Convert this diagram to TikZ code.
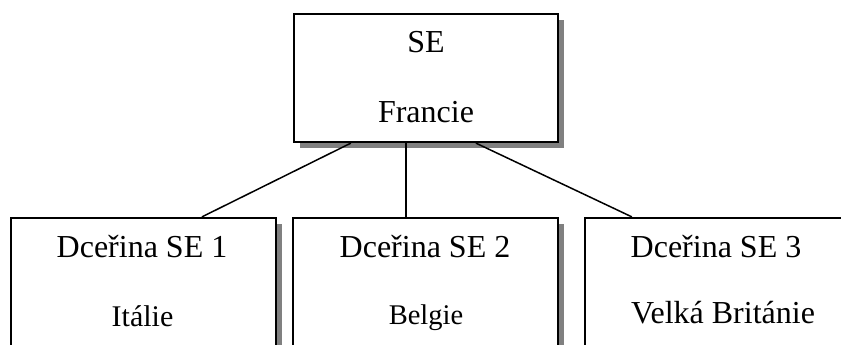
\documentclass[tikz,border=0pt]{standalone}
\usepackage{fontspec}
\setmainfont{Liberation Serif}
\usetikzlibrary{shadows}
\begin{document}
\begin{tikzpicture}[x=1pt,y=1pt,
  orgbox/.style={draw=black, line width=2.2pt, fill=white, rectangle, inner sep=0pt,
    drop shadow={shadow xshift=6pt, shadow yshift=-6pt, fill=black!50, opacity=1}},
  lbl/.style={anchor=base, inner sep=0pt, font=\fontsize{32}{38}\selectfont},
  lblm/.style={anchor=base, inner sep=0pt, font=\fontsize{30}{36}\selectfont},
  lbls/.style={anchor=base, inner sep=0pt, font=\fontsize{28.5}{34}\selectfont},
  conn/.style={draw=black, line width=1.5pt}]
\useasboundingbox (0,0) rectangle (841,-345);
\clip (0,0) rectangle (841,-345);
% boxes
\node[orgbox, minimum width=264pt, minimum height=128pt] (top) at (426,-78) {};
\node[orgbox, minimum width=265pt, minimum height=150pt] (b1) at (143.5,-293) {};
\node[orgbox, minimum width=265pt, minimum height=150pt] (b2) at (425.5,-293) {};
\node[orgbox, minimum width=265pt, minimum height=150pt] (b3) at (717.5,-293) {};
% connectors
\draw[conn] ([xshift=58pt]top.south west) -- ([xshift=192pt]b1.north west);
\draw[conn] ([xshift=113pt]top.south west) -- ([xshift=114pt]b2.north west);
\draw[conn] ([xshift=183pt]top.south west) -- ([xshift=48pt]b3.north west);
% texts
\node[lbl] (t1) at (426,-53) {SE};
\node[lbl] (t2) at (426,-122) {Francie};
\node[lbl] (l1a) at (142,-257) {Dceřina SE 1};
\node[lblm] (l1b) at (142.5,-326) {Itálie};
\node[lbl] (l2a) at (425,-257) {Dceřina SE 2};
\node[lbls] (l2b) at (426,-324) {Belgie};
\node[lbl] (l3a) at (716,-257) {Dceřina SE 3};
\node[lbl] (l3b) at (723,-323) {Velká Británie};
\end{tikzpicture}
\end{document}
